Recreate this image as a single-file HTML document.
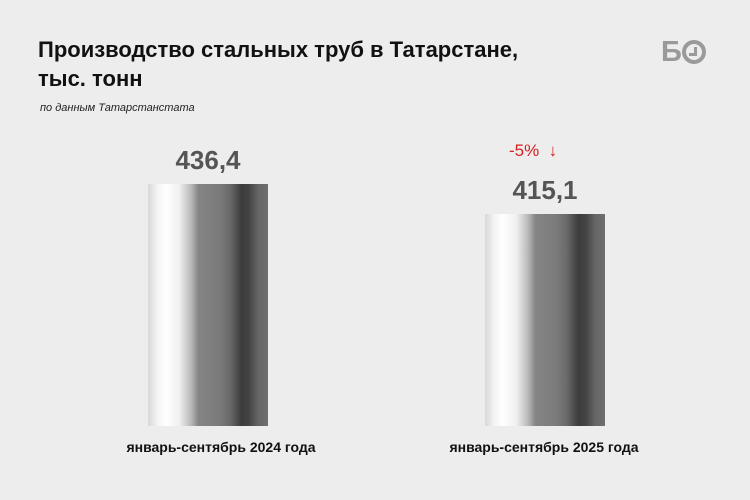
<!DOCTYPE html>
<html><head><meta charset="utf-8"><style>
body{margin:0;width:750px;height:500px;background:#ededed;font-family:"Liberation Sans",sans-serif;position:relative;overflow:hidden}
.t{position:absolute;left:38px;top:35px;font-size:22px;font-weight:bold;color:#111;line-height:29px}
.s{position:absolute;left:40px;top:102px;font-size:11px;font-style:italic;color:#222}
.bar{position:absolute;width:120px;background:linear-gradient(90deg,#d8d8d8 0%,#f4f4f4 8%,#fff 15%,#f0f0f0 26%,#b8b8b8 36%,#858585 42%,#7a7a7a 60%,#6a6a6a 68%,#3c3c3c 78%,#444 84%,#666 92%,#6e6e6e 100%)}
.v{position:absolute;width:200px;text-align:center;font-size:26px;font-weight:bold;color:#555}
.l{position:absolute;width:300px;text-align:center;font-size:14px;font-weight:bold;color:#111;top:439px}
.logo{position:absolute;left:661px;top:36px;font-size:29px;font-weight:bold;color:#9a9a9a}
</style></head><body>
<div class="t">Производство стальных труб в Татарстане,<br>тыс. тонн</div>
<div class="s">по данным Татарстанстата</div>
<div class="logo">Б<span style="display:inline-block;width:24px;height:24px;border:4px solid #9a9a9a;border-radius:50%;box-sizing:border-box;vertical-align:-3px;position:relative"><span style="position:absolute;left:8px;top:3px;width:3px;height:8px;background:#9a9a9a"></span><span style="position:absolute;left:3px;top:9px;width:8px;height:3px;background:#9a9a9a"></span></span></div>
<div class="v" style="left:108px;top:145px">436,4</div>
<div class="bar" style="left:148px;top:184px;height:242px"></div>
<div style="position:absolute;left:509px;top:141px;font-size:17px;color:#d42020">-5% &nbsp;↓</div>
<div class="v" style="left:445px;top:175px">415,1</div>
<div class="bar" style="left:485px;top:214px;height:212px"></div>
<div class="l" style="left:71px">январь-сентябрь 2024 года</div>
<div class="l" style="left:394px">январь-сентябрь 2025 года</div>
</body></html>
